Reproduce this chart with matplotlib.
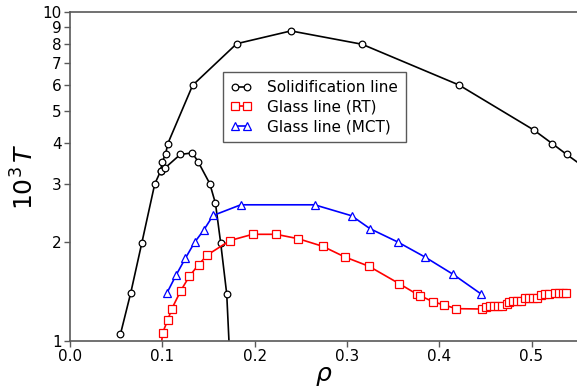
import matplotlib
matplotlib.use("Agg")
import matplotlib.pyplot as plt

# Solidification line (two branches)
sol_upper_rho = [0.0547, 0.0658, 0.0777, 0.0918, 0.0983, 0.0997, 0.1037, 0.1058, 0.1329,
                 0.1806, 0.2394, 0.3164, 0.4214, 0.5024, 0.5225, 0.5381, 0.5600]
sol_upper_T = [1.05, 1.40, 1.98, 3.00, 3.29, 3.49, 3.71, 3.97, 5.99,
               8.01, 8.76, 7.98, 6.00, 4.38, 3.98, 3.69, 3.33]
sol_lower_rho = [0.0983, 0.1026, 0.1195, 0.1325, 0.1387, 0.1514, 0.1576, 0.1633, 0.1698, 0.1730]
sol_lower_T = [3.29, 3.35, 3.69, 3.73, 3.51, 3.01, 2.62, 1.98, 1.39, 0.90]

# Glass line (RT)
rt_rho = [0.0985, 0.1004, 0.1059, 0.1102, 0.1199, 0.1293, 0.1394, 0.1488, 0.1733, 0.1979,
          0.2232, 0.2473, 0.2738, 0.2979, 0.3239, 0.3568, 0.3756, 0.3795, 0.3930, 0.4055,
          0.4185, 0.4464, 0.4507, 0.4550, 0.4594, 0.4637, 0.4680, 0.4731, 0.4760, 0.4803,
          0.4846, 0.4890, 0.4933, 0.4976, 0.5020, 0.5060, 0.5100, 0.5143, 0.5186, 0.5251,
          0.5295, 0.5338, 0.5374]
rt_T = [0.95, 1.06, 1.158, 1.251, 1.42, 1.573, 1.708, 1.826, 2.02, 2.11,
        2.11, 2.046, 1.94, 1.80, 1.687, 1.493, 1.389, 1.373, 1.317, 1.286,
        1.254, 1.251, 1.266, 1.280, 1.280, 1.280, 1.280, 1.293, 1.317, 1.323,
        1.323, 1.323, 1.348, 1.354, 1.354, 1.354, 1.380, 1.386, 1.386, 1.399,
        1.40, 1.40, 1.40]

# Glass line (MCT)
mct_rho = [0.105, 0.115, 0.125, 0.135, 0.145, 0.155, 0.185, 0.265, 0.305, 0.325,
           0.355, 0.385, 0.415, 0.445]
mct_T = [1.399, 1.587, 1.784, 1.995, 2.175, 2.407, 2.594, 2.594, 2.403, 2.195,
         2.0, 1.797, 1.595, 1.392]

x_ticks = [0.0, 0.1, 0.2, 0.3, 0.4, 0.5]
x_tick_labels = ["0.0", "0.1", "0.2", "0.3", "0.4", "0.5"]
y_ticks = [1, 2, 3, 4, 5, 6, 7, 8, 9, 10]
y_tick_labels = ["1", "2", "3", "4", "5", "6", "7", "8", "9", "10"]

plt.rcParams['font.family'] = ['DejaVu Sans']
fig = plt.figure(figsize=(5.77, 3.92), dpi=100)
W, H = 577, 392
ax = fig.add_axes([70 / W, 51 / H, 507.65 / W, 329 / H])

spine_col = '0.35'
ax.plot(sol_upper_rho, sol_upper_T, '-o', color='black', lw=1.2, ms=4.8,
        mfc='white', mec='black', mew=0.9, label='Solidification line')
ax.plot(sol_lower_rho, sol_lower_T, '-o', color='black', lw=1.2, ms=4.8,
        mfc='white', mec='black', mew=0.9)
ax.plot(rt_rho, rt_T, '-s', color='red', lw=1.2, ms=5.5,
        mfc='white', mec='red', mew=0.9, label='Glass line (RT)')
ax.plot(mct_rho, mct_T, '-^', color='blue', lw=1.2, ms=5.5,
        mfc='white', mec='blue', mew=0.9, label='Glass line (MCT)')

ax.set_yscale('log')
ax.set_xlim(0, 0.55)
ax.set_ylim(1, 10)
ax.set_xticks(x_ticks)
ax.set_xticklabels(x_tick_labels)
ax.set_yticks(y_ticks)
ax.set_yticklabels(y_tick_labels)
ax.yaxis.set_minor_locator(matplotlib.ticker.NullLocator())
ax.tick_params(labelsize=11, direction='out', length=4, width=1, color=spine_col, pad=2)
for s in ax.spines.values():
    s.set_color(spine_col)
    s.set_linewidth(1.2)

ax.set_xlabel(r'$\rho$', fontsize=18, labelpad=0)
ax.set_ylabel(r'$10^3\,T$', fontsize=18, labelpad=2.5)

leg = ax.legend(loc='upper left', bbox_to_anchor=(0.3008, 0.8167), borderaxespad=0,
                fontsize=11, numpoints=2, handlelength=1.4, labelspacing=0.3,
                fancybox=False, framealpha=1, edgecolor=spine_col, handletextpad=1.0,
                borderpad=0.5)
leg.get_frame().set_linewidth(1.0)

fig.savefig('out.png', dpi=100)
